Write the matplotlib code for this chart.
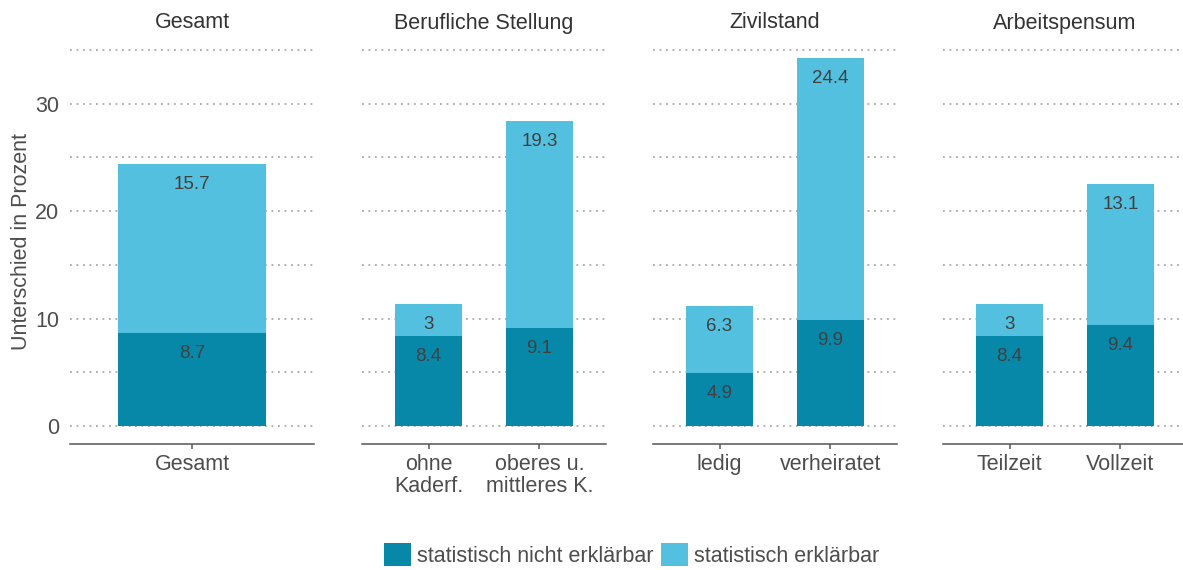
import matplotlib.pyplot as plt

plt.rcParams['font.family'] = ['Liberation Sans', 'DejaVu Sans']

# data per panel
panel_titles = ["Gesamt", "Berufliche Stellung", "Zivilstand", "Arbeitspensum"]
panel_categories = [
    ["Gesamt"],
    ["ohne\nKaderf.", "oberes u.\nmittleres K."],
    ["ledig", "verheiratet"],
    ["Teilzeit", "Vollzeit"],
]
nicht_erklaerbar = [[8.7], [8.4, 9.1], [4.9, 9.9], [8.4, 9.4]]
erklaerbar = [[15.7], [3, 19.3], [6.3, 24.4], [3, 13.1]]

series_names = ["statistisch nicht erklärbar", "statistisch erklärbar"]
dark = "#0888A8"
light = "#53C0DF"
text_col = "#404040"
tick_col = "#4D4D4D"

W, H = 1183, 570
fig = plt.figure(figsize=(W / 100, H / 100), dpi=100)

panel_left = [70, 362, 653, 943]
panel_w = 244
ax_bottom, ax_top = 444, 34

axes = []
for i, title in enumerate(panel_titles):
    ax = fig.add_axes([panel_left[i] / W, 1 - ax_bottom / H,
                       panel_w / W, (ax_bottom - ax_top) / H])
    axes.append(ax)
    cats = panel_categories[i]
    x = list(range(len(cats)))
    bw = 0.73 if len(cats) == 1 else 0.61
    low = nicht_erklaerbar[i]
    high = erklaerbar[i]

    # gridlines every 5
    for g in range(0, 40, 5):
        ax.axhline(g, color="#A8A8A8", lw=1.3, ls=(0, (1, 2.6)), zorder=0)

    ax.bar(x, low, width=bw, color=dark, zorder=2, label=series_names[0])
    ax.bar(x, high, width=bw, bottom=low, color=light, zorder=2,
           label=series_names[1])

    for xi, lo, hi in zip(x, low, high):
        ax.annotate(f"{lo:g}", (xi, lo), xytext=(0, -14.8), textcoords="offset points",
                    ha="center", va="center", fontsize=13.5, color=text_col, zorder=3)
        ax.annotate(f"{hi:g}", (xi, lo + hi), xytext=(0, -14.8), textcoords="offset points",
                    ha="center", va="center", fontsize=13.5, color=text_col, zorder=3)

    ax.set_xlim(-0.6, len(cats) - 0.4)
    ax.set_ylim(-1.68, 36.5)
    ax.set_xticks(x)
    ax.set_xticklabels(cats, fontsize=15.5, color=tick_col, linespacing=1.05)
    ax.set_yticks([0, 10, 20, 30])
    ax.tick_params(axis="x", length=3.6, width=1.1, color="#555555", pad=3.5)
    ax.tick_params(axis="y", length=0, pad=8, labelsize=15.5, labelcolor=tick_col)
    if i > 0:
        ax.tick_params(axis="y", labelleft=False)

    for s in ["top", "right", "left"]:
        ax.spines[s].set_visible(False)
    ax.spines["bottom"].set_color("#555555")
    ax.spines["bottom"].set_linewidth(1.1)

    ax.text(0.5, 1 + 11 / (ax_bottom - ax_top), title, transform=ax.transAxes,
            ha="center", va="center", fontsize=15.5, color="#333333")

fig.text(22 / W, 1 - 241 / H, "Unterschied in Prozent", rotation=90,
         ha="center", va="center", fontsize=15.5, color=tick_col)

handles, labels = axes[0].get_legend_handles_labels()
fig.legend(handles, labels, loc="center", bbox_to_anchor=(0.534, 0.026),
           ncol=2, frameon=False, fontsize=15.5, handlelength=1.25,
           handleheight=1.25, handletextpad=0.3, columnspacing=0.35,
           borderpad=0, labelcolor=tick_col)

fig.savefig("out.png", dpi=100)
